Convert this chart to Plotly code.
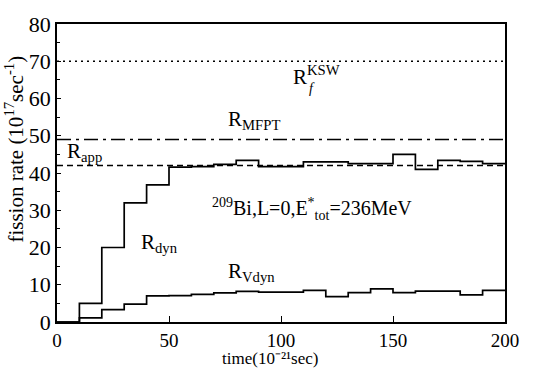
import plotly.graph_objects as go

# time bins (10^-21 sec): left edges of the histogram steps
bin_edges = [0, 10, 20, 30, 40, 50, 60, 70, 80, 90, 100,
             110, 120, 130, 140, 150, 160, 170, 180, 190, 200]

# dynamical fission rate per bin (10^17 sec^-1)
r_dyn = [0, 5, 20, 32, 36.8, 41.6, 41.7, 42.3, 43.4, 41.7,
         41.7, 43.0, 43.0, 42.5, 42.5, 45.0, 41.0, 43.4, 43.1, 42.5]

# rate through the V-path per bin
r_vdyn = [0, 1.1, 3.3, 4.8, 7.0, 7.1, 7.4, 7.8, 8.2, 8.0,
          8.0, 8.5, 6.8, 7.9, 8.9, 7.9, 8.3, 8.3, 7.3, 8.5]

# constant reference rates
t_span = [0, 200]
r_ksw = 70
r_mfpt = 49
r_app = 42


def step_y(vals):
    return vals + [vals[-1]]


fig = go.Figure()
line_w = 1.7
fig.add_trace(go.Scatter(x=bin_edges, y=step_y(r_dyn), mode="lines",
                         line=dict(shape="hv", color="black", width=line_w)))
fig.add_trace(go.Scatter(x=bin_edges, y=step_y(r_vdyn), mode="lines",
                         line=dict(shape="hv", color="black", width=line_w)))
fig.add_trace(go.Scatter(x=t_span, y=[r_ksw] * 2, mode="lines",
                         line=dict(color="black", width=1.6, dash="2px,4px")))
fig.add_trace(go.Scatter(x=t_span, y=[r_mfpt] * 2, mode="lines",
                         line=dict(color="black", width=1.6, dash="14px,5px,3px,5px")))
fig.add_trace(go.Scatter(x=t_span, y=[r_app] * 2, mode="lines",
                         line=dict(color="black", width=1.4, dash="6px,4px")))

font = "Liberation Serif, Times New Roman, serif"
lab = dict(showarrow=False, xanchor="left", yanchor="middle",
           font=dict(family=font, size=21, color="black"))
fig.add_annotation(x=104.5, y=66.2, text="R<sup>KSW</sup>", **lab)
fig.add_annotation(x=111.5, y=62.6, text="<i>f</i>",
                   **{**lab, "font": dict(family=font, size=14, color="black")})
fig.add_annotation(x=75.5, y=54.2, text="R<sub>MFPT</sub>", **lab)
fig.add_annotation(x=3.5, y=45.6, text="R<sub>app</sub>", **lab)
fig.add_annotation(x=36.5, y=21.2, text="R<sub>dyn</sub>", **lab)
fig.add_annotation(x=75.5, y=13.4, text="R<sub>Vdyn</sub>", **lab)
fig.add_annotation(x=68.5, y=30.4,
                   text="<sup>209</sup>Bi,L=0,E<sup>*</sup><sub>tot</sub>=236MeV",
                   **{**lab, "font": dict(family=font, size=20, color="black")})

# axis titles placed in paper coordinates
fig.add_annotation(xref="paper", yref="paper", x=-0.095, y=0.58, xanchor="center",
                   yanchor="middle", textangle=-90, showarrow=False,
                   text="fission rate (10<sup>17</sup>sec<sup>-1</sup>)",
                   font=dict(family=font, size=21, color="black"))
fig.add_annotation(xref="paper", yref="paper", x=0.475, y=-0.157, xanchor="center",
                   yanchor="bottom", showarrow=False, borderpad=0,
                   text="time(10\u207b\u00b2\u00b9sec)",
                   font=dict(family=font, size=17, color="black"))

axis_common = dict(showgrid=False, zeroline=False, showline=True,
                   linecolor="black", linewidth=1.5, mirror=True,
                   ticks="inside", tickcolor="black")

fig.update_xaxes(range=[0, 200], tickvals=[0, 50, 100, 150, 200], ticklen=6,
                 tickfont=dict(family=font, size=19, color="black"),
                 **axis_common)
fig.update_yaxes(range=[0, 80], dtick=10, ticklen=4,
                 tickfont=dict(family=font, size=22, color="black"),
                 minor=dict(dtick=5, ticks="inside", ticklen=3, tickcolor="black"),
                 **axis_common)

fig.update_layout(width=552, height=370, showlegend=False,
                  margin=dict(l=57, r=47, t=17, b=48),
                  paper_bgcolor="white", plot_bgcolor="white")

fig.write_html("out.html")
